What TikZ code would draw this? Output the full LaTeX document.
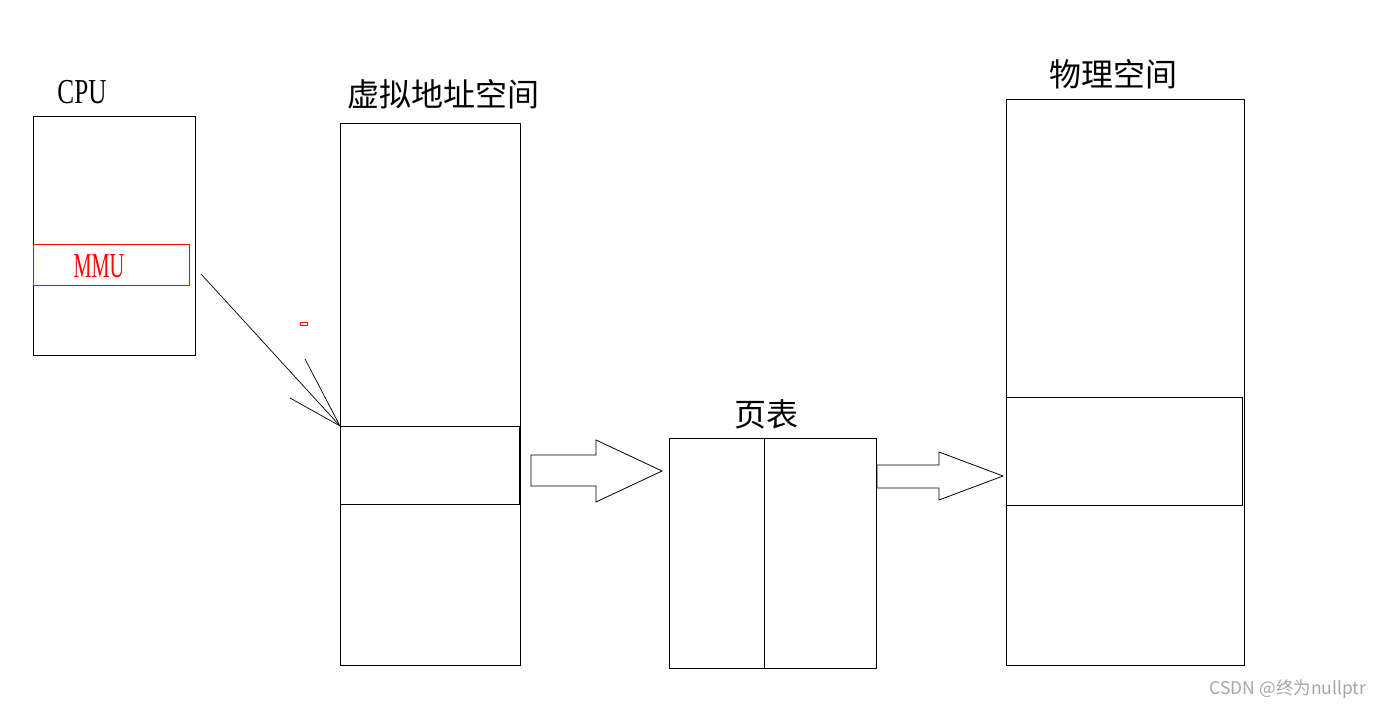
\documentclass[tikz,border=0pt]{standalone}
\usepackage{fontspec}
\setmainfont{Liberation Serif}
\newfontfamily\cjkfont{Noto Sans CJK SC}
\newfontfamily\narrowfont[FakeStretch=0.72]{Liberation Serif}
\newfontfamily\narrowerfont[FakeStretch=0.58]{Liberation Serif}
\usetikzlibrary{positioning}

\begin{document}
\begin{tikzpicture}[x=1pt,y=-1pt]
	\tikzset{box/.style = {draw,line width=1pt,inner sep=0pt,anchor=north west}}
	\tikzset{title/.style = {font=\cjkfont\fontsize{32}{32}\selectfont}}
	\tikzset{latin/.style = {font=\narrowfont\fontsize{35}{35}\selectfont}}
	\tikzset{fat/.style = {draw,line width=0.8pt,fill=white}}
	\tikzset{ptr/.style = {line width=0.7pt}}

	\useasboundingbox (0,0) rectangle (1384,708);

	% cpu with mmu
	\node[box,minimum width=162pt,minimum height=239pt] (cpu) at (33,116){};
	\node[latin] (cpulabel) at (82,92){CPU};
	\node[box,draw=red,minimum width=156pt,minimum height=41pt] (mmu) at (33,244){};
	\node[latin,font=\narrowerfont\fontsize{35}{35}\selectfont,text=red] (mmulabel) at (99,266){MMU};

	% virtual address space
	\node[box,minimum width=180pt,minimum height=542pt] (va) at (340,123){};
	\node[title] (valabel) at (443,94){虚拟地址空间};
	\node[box,minimum width=179pt,minimum height=78pt] (vaslot) at (340,426){};

	% mmu points into the slot
	\coordinate (mmuout) at (201,274);
	\draw[ptr] (mmuout) -- (vaslot.north west);
	\draw[ptr] (vaslot.north west) -- ++(-35,-67);
	\draw[ptr] (vaslot.north west) -- ++(-50,-28);
	\node[draw=red,line width=0.8pt,minimum width=7pt,minimum height=3pt,inner sep=0pt] (dash) at (303.5,323.5){};

	% page table
	\node[box,minimum width=207pt,minimum height=230pt] (pt) at (669,438){};
	\node[title] (ptlabel) at (766,414){页表};
	\coordinate (ptmid) at (764,438);
	\draw[line width=1pt] (ptmid) -- (ptmid |- pt.south);

	% physical space
	\node[box,minimum width=238pt,minimum height=566pt] (pa) at (1006,99){};
	\node[title] (palabel) at (1113,74){物理空间};
	\node[box,minimum width=236pt,minimum height=108pt] (paslot) at (1006,397){};

	% block arrows
	\draw[fat] (531,455) -- (596,455) -- (596,440) -- (662,471) -- (596,502) -- (596,486) -- (531,486) -- cycle;
	\draw[fat] (877,465) -- (939,465) -- (939,452) -- (1003,476) -- (939,500) -- (939,488) -- (877,488) -- cycle;

	% watermark
	\node[font=\cjkfont\fontsize{17.5}{17.5}\selectfont,text=gray!70] (mark) at (1288,689){CSDN @终为nullptr};
\end{tikzpicture}
\end{document}
